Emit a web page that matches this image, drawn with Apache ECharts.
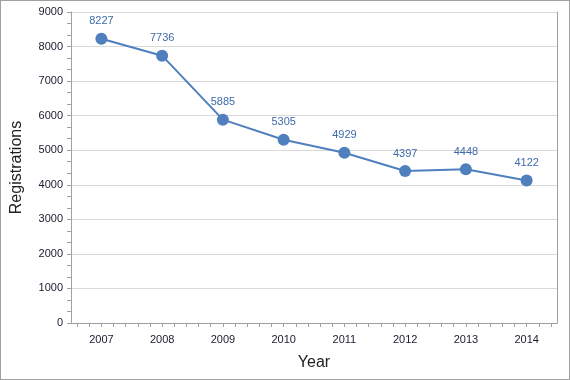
<!DOCTYPE html>
<html><head><meta charset="utf-8">
<script src="https://cdn.jsdelivr.net/npm/echarts@6/dist/echarts.min.js"></script>
<style>
html,body{margin:0;padding:0;background:#fff;}
#c{position:absolute;left:0;top:0;width:568px;height:378px;border:1px solid #a0a0a0;}
</style></head><body><div id="c"></div>
<script>
const years = ['2007','2008','2009','2010','2011','2012','2013','2014'];
const registrations = [8227, 7736, 5885, 5305, 4929, 4397, 4448, 4122];
const yTicks = [0,1000,2000,3000,4000,5000,6000,7000,8000,9000];

const minorX = [];
for (let i = 0; i < years.length * 5; i++) minorX.push(i + 0.5);

const chart = echarts.init(document.getElementById('c'));
const axisColor = '#a0a0a0';
const textColor = '#1a1a2e';
const font = 'Liberation Sans';
chart.setOption({
  animation: false,
  grid: {left: 70, right: 12, top: 11, bottom: 56, containLabel: false, outerBoundsMode: 'none'},
  xAxis: [{
    type: 'category', data: years, boundaryGap: true,
    name: 'Year', nameLocation: 'middle', nameGap: 32,
    nameTextStyle: {fontFamily: font, fontSize: 16, color: '#222'},
    axisLine: {lineStyle: {color: axisColor}},
    axisTick: {show: false},
    axisLabel: {fontFamily: font, fontSize: 11, color: textColor, margin: 11},
    splitLine: {show: false}
  }, {
    type: 'value', min: 0, max: years.length * 5, position: 'bottom',
    axisLine: {show: false},
    axisTick: {show: true, customValues: minorX, length: 4, inside: false, lineStyle: {color: axisColor}},
    axisLabel: {show: false}, splitLine: {show: false}
  }],
  yAxis: [{
    type: 'value', min: yTicks[0], max: yTicks[yTicks.length-1], interval: 1000,
    name: 'Registrations', nameLocation: 'middle', nameGap: 46, nameRotate: 90,
    nameTextStyle: {fontFamily: font, fontSize: 16, color: '#222'},
    axisLine: {show: true, lineStyle: {color: axisColor}},
    axisTick: {show: true, length: 4, lineStyle: {color: axisColor}},
    minorTick: {show: true, splitNumber: 3, length: 4, lineStyle: {color: axisColor}},
    axisLabel: {fontFamily: font, fontSize: 11, color: textColor, margin: 8, formatter: v => String(v)},
    splitLine: {show: true, lineStyle: {color: '#d9d9d9'}}
  }, {
    type: 'value', min: 0, max: 9000, position: 'right',
    axisLine: {show: true, lineStyle: {color: axisColor}},
    axisTick: {show: false}, axisLabel: {show: false}, splitLine: {show: false}
  }],
  series: [{
    type: 'line', data: registrations, xAxisIndex: 0, yAxisIndex: 0,
    symbol: 'circle', symbolSize: 12,
    lineStyle: {color: '#4f7fbd', width: 2},
    itemStyle: {color: '#4f7fbd'},
    label: {show: true, position: 'top', distance: 6, fontFamily: font, fontSize: 11, color: '#3e6aaa'}
  }]
});
</script></body></html>
